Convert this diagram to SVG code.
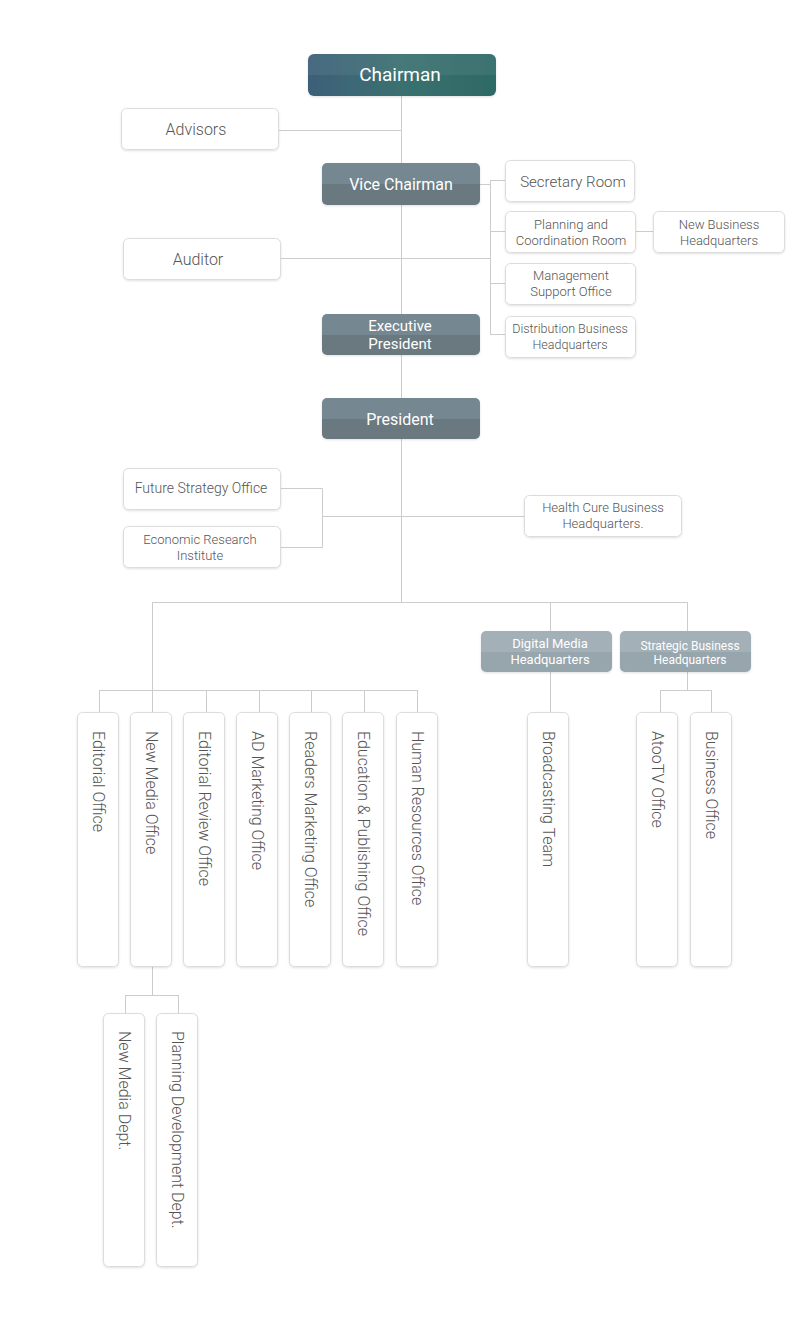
<svg xmlns="http://www.w3.org/2000/svg" width="800" height="1343" viewBox="0 0 800 1343">
<defs>
<linearGradient id="gChair" x1="0" y1="0" x2="1" y2="0">
<stop offset="0" stop-color="#3e6079"/>
<stop offset="0.5" stop-color="#3a7070"/>
<stop offset="1" stop-color="#2e6a66"/>
</linearGradient>
<linearGradient id="gHalf" x1="0" y1="0" x2="0" y2="1">
<stop offset="0" stop-color="#fff" stop-opacity="0.06"/>
<stop offset="0.5" stop-color="#fff" stop-opacity="0.06"/>
<stop offset="0.5" stop-color="#fff" stop-opacity="0"/>
<stop offset="1" stop-color="#fff" stop-opacity="0"/>
</linearGradient>
<linearGradient id="gDark" x1="0" y1="0" x2="0" y2="1">
<stop offset="0" stop-color="#748790"/>
<stop offset="0.5" stop-color="#748790"/>
<stop offset="0.5" stop-color="#69797f"/>
<stop offset="1" stop-color="#69797f"/>
</linearGradient>
<linearGradient id="gLight" x1="0" y1="0" x2="0" y2="1">
<stop offset="0" stop-color="#a3b0b7"/>
<stop offset="0.5" stop-color="#a3b0b7"/>
<stop offset="0.5" stop-color="#97a5ac"/>
<stop offset="1" stop-color="#97a5ac"/>
</linearGradient>
<filter id="sh" x="-10%" y="-10%" width="120%" height="130%">
<feDropShadow dx="0" dy="1" stdDeviation="1" flood-color="#000" flood-opacity="0.12"/>
</filter>
</defs>
<style>
.ln{stroke:#cccccc;stroke-width:1;fill:none}
.box{fill:#fff;stroke:#dcdcdc;stroke-width:1;filter:url(#sh)}
.dk{filter:url(#sh)}
.t{font-family:Roboto,"Noto Sans",sans-serif;fill:#555;text-anchor:middle;font-weight:300}
.w{font-family:Roboto,"Noto Sans",sans-serif;fill:#fff;text-anchor:middle;font-weight:400}
.v{font-family:Roboto,"Noto Sans",sans-serif;fill:#555;font-size:16px;font-weight:300;dominant-baseline:central}
</style>
<rect width="800" height="1343" fill="#fff"/>
<g id="connectors">
<path class="ln" d="M401.5 96V602"/>
<path class="ln" d="M278 130.5H401.5"/>
<path class="ln" d="M280 258.5H490.5"/>
<path class="ln" d="M480 184.5H490.5M490.5 180V335M490.5 180.5H505M490.5 231.5H505M490.5 283.5H505M490.5 334.5H505"/>
<path class="ln" d="M635 231.5H653"/>
<path class="ln" d="M280 488.5H322.5V547.5H280M322.5 516.5H524"/>
<path class="ln" d="M152.5 602.5H687.5M152.5 602V966M550.5 602V631M687.5 602V631"/>
<path class="ln" d="M99.5 690.5H417.5M99.5 690V712M206.5 690V712M259.5 690V712M311.5 690V712M364.5 690V712M417.5 690V712"/>
<path class="ln" d="M550.5 672V712"/>
<path class="ln" d="M687.5 672V690.5M660.5 690.5H711.5M660.5 690V712M711.5 690V712"/>
<path class="ln" d="M152.5 966V995.5M125.5 995.5H178.5M125.5 995V1013M178.5 995V1013"/>
</g>
<g id="chairman"><rect class="dk" x="308" y="54" width="188" height="42" rx="6" fill="url(#gChair)"/><rect x="308" y="54" width="188" height="42" rx="6" fill="url(#gHalf)"/><text class="w" x="400" y="81" font-size="19">Chairman</text></g>
<g id="advisors"><rect class="box" x="121.5" y="108.5" width="157" height="41" rx="5"/><text class="t" x="196" y="135" font-size="16">Advisors</text></g>
<g id="vice-chairman"><rect class="dk" x="322" y="163" width="158" height="42" rx="5" fill="url(#gDark)"/><text class="w" x="401" y="190" font-size="16">Vice Chairman</text></g>
<g id="secretary-room"><rect class="box" x="505.5" y="160.5" width="129" height="41" rx="5"/><text class="t" x="573" y="187" font-size="15">Secretary Room</text></g>
<g id="planning-coordination"><rect class="box" x="505.5" y="211.5" width="130" height="41" rx="5"/><text class="t" x="571" y="229" font-size="13">Planning and</text><text class="t" x="571" y="245" font-size="13">Coordination Room</text></g>
<g id="new-business"><rect class="box" x="653.5" y="211.5" width="131" height="41" rx="5"/><text class="t" x="719" y="229" font-size="13">New Business</text><text class="t" x="719" y="245" font-size="13">Headquarters</text></g>
<g id="management-support"><rect class="box" x="505.5" y="263.5" width="130" height="41" rx="5"/><text class="t" x="571" y="280" font-size="13">Management</text><text class="t" x="571" y="296" font-size="13">Support Office</text></g>
<g id="distribution-business"><rect class="box" x="505.5" y="316.5" width="130" height="41" rx="5"/><text class="t" x="570" y="333" font-size="12.5">Distribution Business</text><text class="t" x="570" y="349" font-size="12.5">Headquarters</text></g>
<g id="auditor"><rect class="box" x="123.5" y="238.5" width="157" height="41" rx="5"/><text class="t" x="198" y="265" font-size="16">Auditor</text></g>
<g id="executive-president"><rect class="dk" x="322" y="314" width="158" height="41" rx="5" fill="url(#gDark)"/><text class="w" x="400" y="331" font-size="15">Executive</text><text class="w" x="400" y="349" font-size="15">President</text></g>
<g id="president"><rect class="dk" x="322" y="398" width="158" height="41" rx="5" fill="url(#gDark)"/><text class="w" x="400" y="425" font-size="16">President</text></g>
<g id="future-strategy"><rect class="box" x="123.5" y="468.5" width="157" height="41" rx="5"/><text class="t" x="201" y="493" font-size="14">Future Strategy Office</text></g>
<g id="economic-research"><rect class="box" x="123.5" y="526.5" width="157" height="41" rx="5"/><text class="t" x="200" y="544" font-size="13">Economic Research</text><text class="t" x="200" y="560" font-size="13">Institute</text></g>
<g id="health-cure"><rect class="box" x="524.5" y="495.5" width="157" height="41" rx="5"/><text class="t" x="603" y="512" font-size="13">Health Cure Business</text><text class="t" x="603" y="528" font-size="13">Headquarters.</text></g>
<g id="digital-media-hq"><rect class="dk" x="481" y="631" width="131" height="41" rx="5" fill="url(#gLight)"/><text class="w" x="550" y="648" font-size="13">Digital Media</text><text class="w" x="550" y="664" font-size="13">Headquarters</text></g>
<g id="strategic-business-hq"><rect class="dk" x="620" y="631" width="131" height="41" rx="5" fill="url(#gLight)"/><text class="w" x="690" y="650" font-size="12">Strategic Business</text><text class="w" x="690" y="664" font-size="12">Headquarters</text></g>
<g id="editorial-office"><rect class="box" x="77.5" y="712.5" width="41" height="254" rx="5"/><text class="v" transform="translate(98 731) rotate(90)">Editorial Office</text></g>
<g id="new-media-office"><rect class="box" x="130.5" y="712.5" width="41" height="254" rx="5"/><text class="v" transform="translate(151 731) rotate(90)">New Media Office</text></g>
<g id="editorial-review-office"><rect class="box" x="183.5" y="712.5" width="41" height="254" rx="5"/><text class="v" transform="translate(204 731) rotate(90)">Editorial Review Office</text></g>
<g id="ad-marketing-office"><rect class="box" x="236.5" y="712.5" width="41" height="254" rx="5"/><text class="v" transform="translate(257 731) rotate(90)">AD Marketing Office</text></g>
<g id="readers-marketing-office"><rect class="box" x="289.5" y="712.5" width="41" height="254" rx="5"/><text class="v" transform="translate(310 731) rotate(90)">Readers Marketing Office</text></g>
<g id="education-publishing-office"><rect class="box" x="342.5" y="712.5" width="41" height="254" rx="5"/><text class="v" transform="translate(363 731) rotate(90)">Education &amp; Publishing Office</text></g>
<g id="human-resources-office"><rect class="box" x="396.5" y="712.5" width="41" height="254" rx="5"/><text class="v" transform="translate(417 731) rotate(90)">Human Resources Office</text></g>
<g id="broadcasting-team"><rect class="box" x="527.5" y="712.5" width="41" height="254" rx="5"/><text class="v" transform="translate(548 731) rotate(90)">Broadcasting Team</text></g>
<g id="atootv-office"><rect class="box" x="636.5" y="712.5" width="41" height="254" rx="5"/><text class="v" transform="translate(657 731) rotate(90)">AtooTV Office</text></g>
<g id="business-office"><rect class="box" x="690.5" y="712.5" width="41" height="254" rx="5"/><text class="v" transform="translate(711 731) rotate(90)">Business Office</text></g>
<g id="new-media-dept"><rect class="box" x="103.5" y="1013.5" width="41" height="253" rx="5"/><text class="v" transform="translate(124 1031) rotate(90)">New Media Dept.</text></g>
<g id="planning-development-dept"><rect class="box" x="156.5" y="1013.5" width="41" height="253" rx="5"/><text class="v" transform="translate(177 1031) rotate(90)">Planning Development Dept.</text></g>
</svg>
